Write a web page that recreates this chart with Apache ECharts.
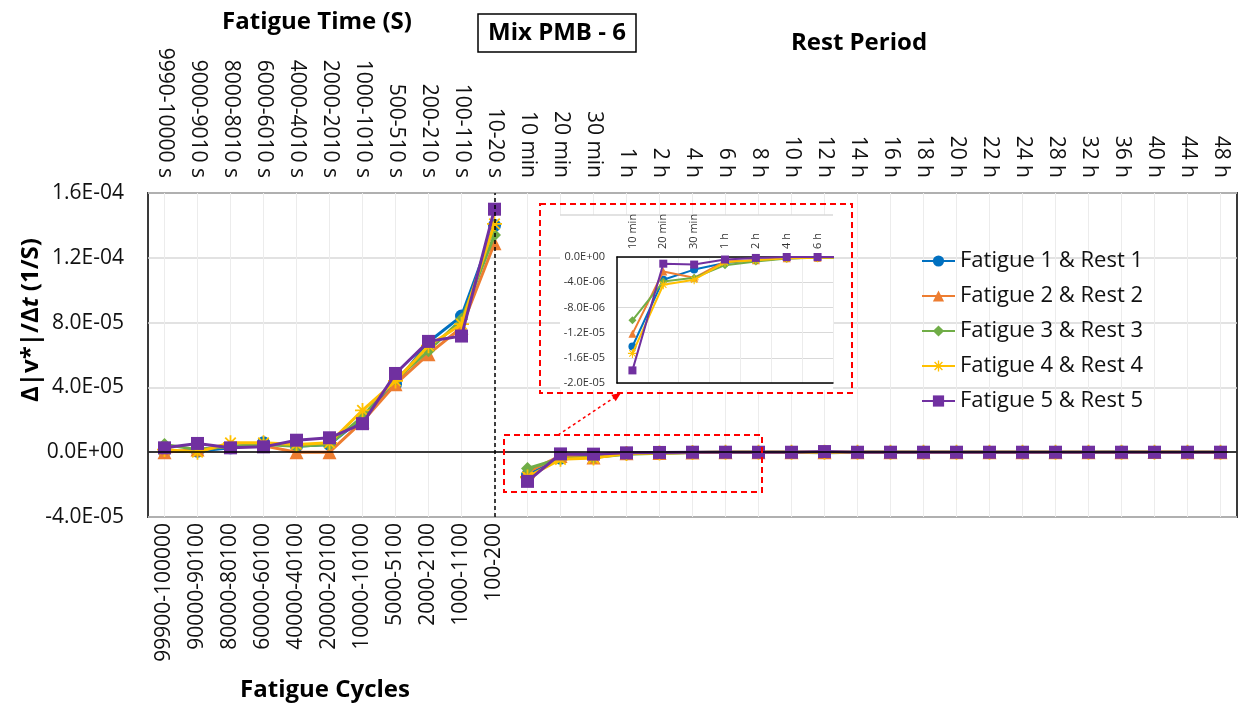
<!DOCTYPE html>
<html>
<head>
<meta charset="utf-8">
<script src="https://cdn.jsdelivr.net/npm/echarts@6/dist/echarts.min.js"></script>
<style>
  html, body { margin: 0; padding: 0; background: #fff; }
  #chart { width: 1243px; height: 708px; }
</style>
</head>
<body>
<div id="chart"></div>
<script>
const fatigueTimeLabels = ['9990-10000 s', '9000-9010 s', '8000-8010 s', '6000-6010 s', '4000-4010 s',
  '2000-2010 s', '1000-1010 s', '500-510 s', '200-210 s', '100-110 s', '10-20 s'];
const restLabels = ['10 min', '20 min', '30 min', '1 h', '2 h', '4 h', '6 h', '8 h', '10 h', '12 h', '14 h',
  '16 h', '18 h', '20 h', '22 h', '24 h', '28 h', '32 h', '36 h', '40 h', '44 h', '48 h'];
const cycleLabels = ['99900-100000', '90000-90100', '80000-80100', '60000-60100', '40000-40100',
  '20000-20100', '10000-10100', '5000-5100', '2000-2100', '1000-1100', '100-200'];
const seriesNames = ['Fatigue 1 & Rest 1', 'Fatigue 2 & Rest 2', 'Fatigue 3 & Rest 3',
  'Fatigue 4 & Rest 4', 'Fatigue 5 & Rest 5'];

const fatigue1 = [0.5e-6, 0.6e-6, 2.7e-6, 5.8e-6, 3.7e-6, 4.8e-6, 21e-6, 42e-6, 68e-6, 84e-6, 140e-6];
const fatigue2 = [0, 1.6e-6, 3.7e-6, 4.0e-6, 0, 0, 19e-6, 42e-6, 60.5e-6, 77e-6, 129e-6];
const fatigue3 = [4.8e-6, 1.6e-6, 3.7e-6, 4.8e-6, 3.7e-6, 4.8e-6, 22e-6, 45e-6, 62.6e-6, 82e-6, 134e-6];
const fatigue4 = [1.6e-6, 0, 5.8e-6, 5.8e-6, 4.8e-6, 5.8e-6, 25.8e-6, 44e-6, 65.7e-6, 79e-6, 141e-6];
const fatigue5 = [2.7e-6, 5.4e-6, 2.7e-6, 3.3e-6, 7.4e-6, 8.9e-6, 17.6e-6, 48.6e-6, 68.4e-6, 71.7e-6, 150e-6];

const rest1 = [-1.42e-5, -3.6e-6, -2.0e-6, -9.5e-7, -5e-7, -2e-7, -1e-7, -1e-7, -5e-8, -3e-7, -5e-8,
  -5e-8, -4e-8, -4e-8, -3e-8, -3e-8, -3e-8, -2e-8, 2e-7, -2e-8, -1e-8, -1e-8];
const rest2 = [-1.22e-5, -2.3e-6, -3.3e-6, -7e-7, -5e-7, -2e-7, -1e-7, -8e-8, -6e-8, -5e-8, -5e-8,
  -4e-8, -4e-8, -3e-8, -3e-8, -3e-8, -2e-8, -2e-8, -2e-8, 2e-7, -1e-8, -1e-8];
const rest3 = [-1.005e-5, -3.9e-6, -3.3e-6, -1.3e-6, -7e-7, -2.5e-7, -1e-7, -8e-8, -5e-8, -5e-8, -4e-8,
  -4e-8, -3e-8, -3e-8, -3e-8, -2e-8, -2e-8, -2e-8, -2e-8, -1e-8, -1e-8, -1e-8];
const rest4 = [-1.53e-5, -4.4e-6, -3.6e-6, -8.5e-7, -5e-7, -2e-7, -1e-7, -8e-8, -6e-8, -5e-8, -5e-8,
  -4e-8, -4e-8, -3e-8, -3e-8, -3e-8, -2e-8, -2e-8, -2e-8, -2e-8, -1e-8, -1e-8];
const rest5 = [-1.8e-5, -1.06e-6, -1.2e-6, -4e-7, -1.5e-7, 0, 0, -2e-8, -2e-8, 4e-7, -2e-8,
  -1e-8, -1e-8, -1e-8, -1e-8, -1e-8, -1e-8, -1e-8, -1e-8, -1e-8, 0, 0];

const fatigueData = [fatigue1, fatigue2, fatigue3, fatigue4, fatigue5];
const restData = [rest1, rest2, rest3, rest4, rest5];

const colors = ['#0070C0', '#ED7D31', '#70AD47', '#FFC000', '#7030A0'];
const asterisk = 'path://M-1.2,-10L1.2,-10L1.2,10L-1.2,10Z M-10,-1.2L10,-1.2L10,1.2L-10,1.2Z ' +
  'M-6.15,-7.85L7.85,6.15L6.15,7.85L-7.85,-6.15Z M6.15,-7.85L7.85,-6.15L-6.15,7.85L-7.85,6.15Z';
const symbols = ['circle', 'triangle', 'diamond', asterisk, 'rect'];
const symbolSizes = [13, 14, 13, 15, 13];
const insetSizes = [8, 8, 8, 9, 8];

const font = '"Open Sans", "Noto Sans", sans-serif';

const sci = (v) => {
  const parts = v.toExponential(1).split('e');
  const n = parseInt(parts[1], 10);
  return parts[0] + 'E' + (n < 0 ? '-' : '+') + String(Math.abs(n)).padStart(2, '0');
};

const chart = echarts.init(document.getElementById('chart'));

const lineSeries = (name, i, data, xAxisIndex, yAxisIndex, size, width, z) => ({
  name,
  type: 'line',
  xAxisIndex,
  yAxisIndex,
  data,
  symbol: symbols[i],
  symbolSize: size,
  color: colors[i],
  lineStyle: { width, color: colors[i] },
  itemStyle: { color: colors[i] },
  z: z + i * 0.1,
  animation: false,
});

// fatigue and rest parts are separate lines (no link across the dashed divider)
const fatigueSeries = seriesNames.map((name, i) => lineSeries(name, i,
  fatigueTimeLabels.map((lab, k) => [lab, fatigueData[i][k]]), 1, 0, symbolSizes[i], 3, 2));
const restSeries = seriesNames.map((name, i) => lineSeries(name, i,
  restLabels.map((lab, k) => [lab, restData[i][k]]), 1, 0, symbolSizes[i], 3, 2));
const insetSeries = seriesNames.map((name, i) => lineSeries(name, i,
  restData[i].slice(0, 8), 2, 1, insetSizes[i], 2, 6));

fatigueSeries[0].markLine = {
  silent: true,
  symbol: 'none',
  label: { show: false },
  animation: false,
  data: [
    { xAxis: '10-20 s', lineStyle: { type: [4, 3], color: '#000', width: 1.5 } },
    { yAxis: 0, lineStyle: { type: 'solid', color: '#000', width: 1.5 } },
  ],
};

const option = {
  backgroundColor: '#fff',
  textStyle: { fontFamily: font },
  grid: [
    {
      left: 148, right: 6, top: 193, bottom: 191,
      show: true, borderColor: '#3a3a3a', borderWidth: 2,
    },
    {
      left: 617, top: 257, width: 216, height: 126,
    },
  ],
  legend: {
    orient: 'vertical',
    left: 916,
    top: 245,
    itemWidth: 33,
    itemHeight: 14,
    itemGap: 13,
    data: seriesNames,
    textStyle: { fontSize: 22, color: '#111', fontFamily: font },
  },
  xAxis: [
    {
      type: 'category',
      gridIndex: 0,
      position: 'bottom',
      data: cycleLabels.concat(restLabels.map(() => '')),
      axisLine: { show: false },
      axisTick: { show: false },
      axisLabel: { interval: 0, rotate: 90, fontSize: 21, color: '#111', margin: 6 },
      splitLine: { show: true, interval: 0, alignWithLabel: true, lineStyle: { color: '#ececec', width: 1 } },
    },
    {
      type: 'category',
      gridIndex: 0,
      position: 'top',
      data: fatigueTimeLabels.concat(restLabels),
      axisLine: { show: false },
      axisTick: { show: false },
      axisLabel: { interval: 0, rotate: 90, fontSize: 21, color: '#111', margin: 15 },
      splitLine: { show: false },
    },
    {
      type: 'category',
      gridIndex: 1,
      position: 'top',
      data: restLabels.slice(0, 8),
      max: 6,
      z: 5,
      axisLine: { show: true, lineStyle: { color: '#000', width: 1.5 } },
      axisTick: { show: false },
      axisLabel: { interval: 0, rotate: 90, fontSize: 11, color: '#333', margin: 8 },
      splitLine: { show: true, interval: 0, lineStyle: { color: '#ececec' } },
    },
    {
      type: 'category',
      gridIndex: 1,
      position: 'bottom',
      data: restLabels.slice(0, 8),
      max: 6,
      z: 5,
      axisLine: { show: true, lineStyle: { color: '#000', width: 1.5 } },
      axisTick: { show: false },
      axisLabel: { show: false },
      splitLine: { show: false },
    },
  ],
  yAxis: [
    {
      type: 'value',
      gridIndex: 0,
      min: -4e-5,
      max: 1.6e-4,
      interval: 4e-5,
      axisLine: { show: false },
      axisTick: { show: false },
      axisLabel: { fontSize: 21, color: '#111', margin: 24, formatter: sci },
      splitLine: { lineStyle: { color: '#d9d9d9', width: 1.5 } },
    },
    {
      type: 'value',
      gridIndex: 1,
      min: -2e-5,
      max: 0,
      interval: 4e-6,
      z: 5,
      axisLine: { show: true, lineStyle: { color: '#000', width: 1.5 } },
      axisTick: { show: false },
      axisLabel: { fontSize: 11, color: '#333', margin: 12, formatter: sci },
      splitLine: { lineStyle: { color: '#d9d9d9' } },
    },
  ],
  graphic: [
    { type: 'rect', z: 1, silent: true, shape: { x: 560, y: 215, width: 273, height: 175 },
      style: { fill: '#fff' } },
    { type: 'line', z: 1, silent: true, shape: { x1: 560, y1: 215, x2: 833, y2: 215 },
      style: { stroke: '#d9d9d9', lineWidth: 1.5 } },
    { type: 'rect', z: 10, silent: true, shape: { x: 540, y: 204, width: 312, height: 189 },
      style: { fill: null, stroke: '#ff0000', lineWidth: 2, lineDash: [6, 4] } },
    { type: 'rect', z: 10, silent: true, shape: { x: 504, y: 435, width: 258, height: 57 },
      style: { fill: null, stroke: '#ff0000', lineWidth: 2, lineDash: [6, 4] } },
    { type: 'line', z: 10, silent: true, shape: { x1: 558, y1: 435, x2: 615, y2: 397 },
      style: { stroke: '#ff0000', lineWidth: 1.5, lineDash: [3, 3] } },
    { type: 'polygon', z: 10, silent: true,
      shape: { points: [[621, 393], [615.7, 401.3], [611.3, 394.7]] },
      style: { fill: '#ff0000' } },
    { type: 'text', z: 10, silent: true, x: 317, y: 22,
      style: { text: 'Fatigue Time (S)', font: 'bold 24px ' + font, fill: '#000',
        textAlign: 'center', textVerticalAlign: 'middle' } },
    { type: 'text', z: 10, silent: true, x: 859, y: 43,
      style: { text: 'Rest Period', font: 'bold 24px ' + font, fill: '#000',
        textAlign: 'center', textVerticalAlign: 'middle' } },
    { type: 'rect', z: 10, silent: true, shape: { x: 478, y: 14, width: 158, height: 38 },
      style: { fill: '#fff', stroke: '#000', lineWidth: 1.5 } },
    { type: 'text', z: 11, silent: true, x: 557, y: 33,
      style: { text: 'Mix PMB - 6', font: 'bold 24px ' + font, fill: '#000',
        textAlign: 'center', textVerticalAlign: 'middle' } },
    { type: 'text', z: 10, silent: true, x: 325, y: 690,
      style: { text: 'Fatigue Cycles', font: 'bold 24px ' + font, fill: '#000',
        textAlign: 'center', textVerticalAlign: 'middle' } },
    { type: 'text', z: 10, silent: true, x: 31, y: 320, rotation: Math.PI / 2,
      style: {
        text: '{b|Δ|v*|/Δ}{i|t}{b| (1/S)}',
        textAlign: 'center', textVerticalAlign: 'middle',
        rich: {
          b: { fontFamily: font, fontWeight: 'bold', fontSize: 24, fill: '#000' },
          i: { fontFamily: font, fontWeight: 'bold', fontStyle: 'italic', fontSize: 24, fill: '#000' },
        },
      } },
  ],
  series: fatigueSeries.concat(restSeries, insetSeries),
};

chart.setOption(option);
window.addEventListener('resize', () => chart.resize());
</script>
</body>
</html>
